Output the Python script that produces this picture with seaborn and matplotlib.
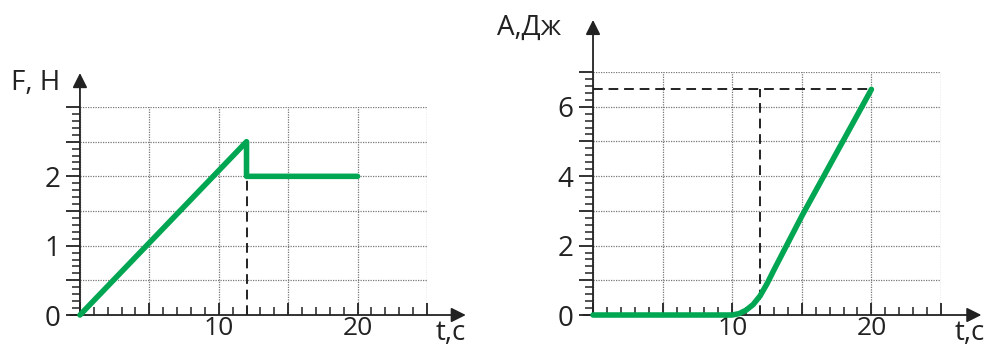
import numpy as np
import pandas as pd
import matplotlib.pyplot as plt
import seaborn as sns
from matplotlib.ticker import MultipleLocator

# F(t) graph
t_force = [0, 12, 12, 20]
force = [0, 2.5, 2.0, 2.0]
# A(t) graph
t_work = [0, 10, 10.5, 11, 11.5, 12, 12.5, 13, 15, 20]
work = [0, 0, 0.04, 0.14, 0.3, 0.55, 0.9, 1.3, 2.85, 6.5]

t_mark = 12
work_mark = 6.5
force_ticks = [0, 1, 2]
work_ticks = [0, 2, 4, 6]
time_ticks = [10, 20]

sns.set_theme(style="white")
plt.rcParams['font.family'] = ['Open Sans', 'DejaVu Sans']

green = '#00a651'
fig = plt.figure(figsize=(9.92, 3.49), dpi=100)
ax1 = fig.add_axes([0.0806, 0.0974, 0.3498, 0.5960])
ax2 = fig.add_axes([0.5978, 0.0974, 0.3508, 0.6963])

df_f = pd.DataFrame({'t': t_force, 'F': force})
df_a = pd.DataFrame({'t': t_work, 'A': work})


def style_axes(ax, ymax, ymajor, yminor, ylabels, arrow_y, arrow_x, xlab, ylab, ylab_pos):
    ax.set_xlim(0, 25)
    ax.set_ylim(0, ymax)
    for s in ax.spines.values():
        s.set_visible(False)
    ax.xaxis.set_major_locator(MultipleLocator(5))
    ax.xaxis.set_minor_locator(MultipleLocator(1))
    ax.yaxis.set_major_locator(MultipleLocator(ymajor))
    ax.yaxis.set_minor_locator(MultipleLocator(yminor))
    ax.set_xticklabels([str(int(v)) if int(v) in time_ticks else '' for v in ax.get_xticks()])
    ax.set_yticklabels([('%g' % v) if any(abs(v - l) < 1e-9 for l in ylabels) else '' for v in ax.get_yticks()])
    ax.tick_params(axis='x', which='major', direction='in', length=9, width=1.3, color='#222222',
                   bottom=True, labelsize=19, pad=1, labelcolor='#222222')
    ax.tick_params(axis='x', which='minor', direction='in', length=6, width=1.1, color='#222222', bottom=True)
    ax.tick_params(axis='y', which='major', direction='out', length=10, width=1.3, color='#222222',
                   left=True, labelsize=20, pad=4, labelcolor='#222222')
    ax.tick_params(axis='y', which='minor', direction='out', length=6, width=1.1, color='#222222', left=True)
    ax.grid(True, which='major', color='#777777', linestyle=(0, (1, 1)), linewidth=0.9)
    # axis arrows
    ax.annotate('', xy=(arrow_x, 0), xytext=(-0.7, 0), annotation_clip=False,
                arrowprops=dict(arrowstyle='-|>', color='#222222', lw=1.3, mutation_scale=22, shrinkA=0, shrinkB=0))
    ax.annotate('', xy=(0, arrow_y), xytext=(0, 0), annotation_clip=False,
                arrowprops=dict(arrowstyle='-|>', color='#222222', lw=1.3, mutation_scale=22, shrinkA=0, shrinkB=0))
    ax.text(xlab[0], xlab[1], 't,c', fontsize=20, color='#222222', va='center', ha='left', clip_on=False)
    ax.text(ylab_pos[0], ylab_pos[1], ylab, fontsize=20, color='#222222', va='center', ha='left', clip_on=False)


style_axes(ax1, 3, 0.5, 0.1, force_ticks, 3.49, 27.8, (25.6, -0.26), 'F, H', (-5.0, 3.34))
style_axes(ax2, 7, 1, 0.2, work_ticks, 8.5, 27.9, (26.0, -0.52), 'A,Дж', (-6.9, 8.27))

ax1.plot([t_mark, t_mark], [0, force[2]], color='#222222', lw=1.4, linestyle=(0, (5, 3)), zorder=3)
sns.lineplot(data=df_f, x='t', y='F', ax=ax1, color=green, lw=4, sort=False, estimator=None, zorder=4)

ax2.plot([t_mark, t_mark], [0, work_mark], color='#222222', lw=1.4, linestyle=(0, (5, 3)), zorder=3)
ax2.plot([0, t_work[-1]], [work_mark, work_mark], color='#222222', lw=1.4, linestyle=(0, (5, 3)), zorder=3)
sns.lineplot(data=df_a, x='t', y='A', ax=ax2, color=green, lw=4, sort=False, estimator=None, zorder=4)

for ax in (ax1, ax2):
    ax.set_xlabel('')
    ax.set_ylabel('')
    for line in ax.lines:
        line.set_solid_joinstyle('round')
        line.set_clip_on(False)

fig.savefig('out.png', dpi=100)
